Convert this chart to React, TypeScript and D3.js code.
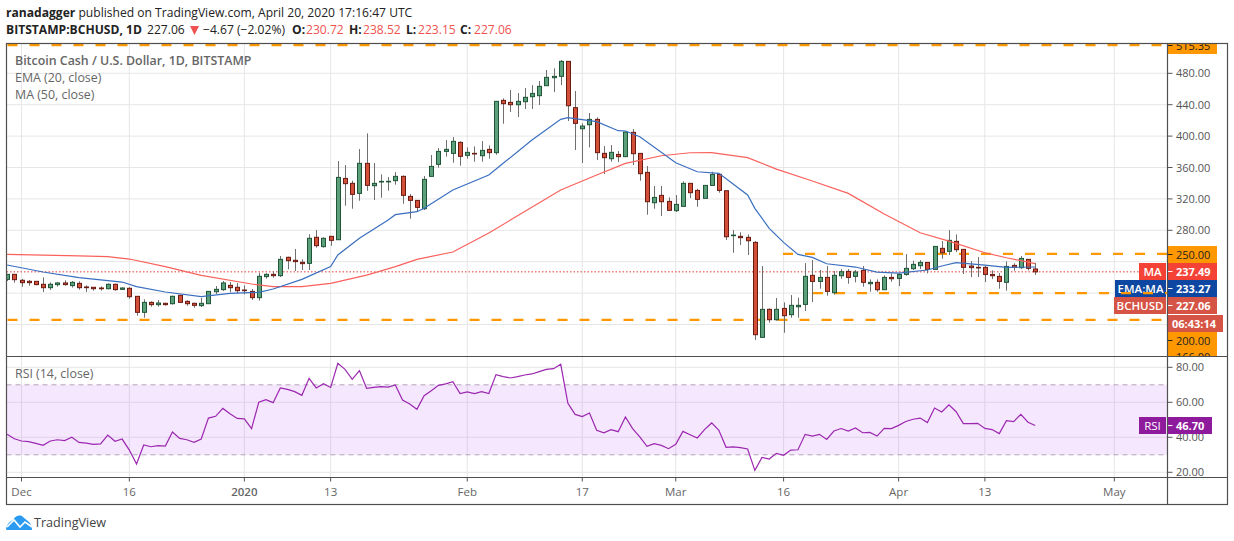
import React from 'react';
import * as d3 from 'd3';

// daily candles, first one is 2019-11-29
const startDate = '2019-11-29';
const opens = [217.5,223.9,216.3,215,215,211.2,206.9,210.8,212.9,209.5,212.4,207.8,207.4,206.5,205.6,211.2,204.8,206.1,195.9,175.5,188.2,185.3,187,186.5,197.2,189.5,187,184,186.5,201.8,204.4,209.9,207.4,203.9,202.2,194.2,221,223.9,222.2,245.6,241.8,239.2,237.9,271.1,259.2,272.3,268,346.1,339.8,327,365.3,336.8,342,342,343.2,348.7,323.2,318.1,307.5,348.7,364,380.5,378,392,375.5,378,375,383.1,378.9,445.5,443,440,443.8,450.2,451.5,464.2,474.4,476.1,495.2,436.2,409.4,414.5,421.3,378,371.2,376.7,373.8,404.8,378,353.8,315.1,324.5,316.8,305,310.5,339.8,330.8,320.7,337.2,351.3,330.4,273.5,272.3,271,264.6,143.6,179.3,166.1,180.5,172.5,182.6,185.6,222.6,214.9,220,200.5,222.1,227.7,221.3,229,212,213.7,204.3,220,218.7,223.8,231.1,234.9,239.1,230.2,257,253.2,265.9,255.7,234.5,232.8,232.8,223.8,221.3,213.7,235.3,232.4,243,230.72];
const highs = [224,224,218,216.7,215.4,220,213.7,214.1,216.3,215.4,215,209.9,207.8,208.6,212.4,212,207.4,207.4,195.9,192,189.5,191.2,187.8,196.7,197.2,190.8,187.8,193.8,202.2,209,215.4,214.1,212.9,209.9,205.2,226,225.2,227.7,247.3,246.4,256.2,243,274.9,280.4,271.1,272.3,368.2,363.1,343.2,383.5,403.5,365.7,351.2,347.8,354.2,350,326.2,318.1,349.1,375.9,384.8,395,398.8,393.3,385.6,386.9,393.7,388.2,444.3,448,458.7,454.9,461.2,465,470.2,484.2,486.3,496.9,495.2,457.4,416.2,429.4,423.9,387.3,388.6,381,405.2,409,378,361.9,336.4,336.4,321.9,324.9,342.3,339.8,333,337.2,354.6,351.3,329.6,280.3,277.4,274.8,266.3,234.5,180.5,193.7,188.2,197.5,194.1,238.3,242.1,229.4,234.5,228.1,230.6,230.6,229.4,234.5,217.5,217.5,222.6,225.1,225.1,249.7,241.3,242.1,239.1,259.5,266.3,280.3,274.8,255.7,240.8,245.9,234.5,228.9,225.5,240.4,237.9,247.2,243,238.52];
const lows = [215.4,213.3,208,209.5,210,201.4,204,208.2,209.5,207,204.4,201.4,203.1,203.1,204.8,203.1,204,192.9,171.2,168.7,182.7,182.7,184,185.3,188.2,184,181.4,182.3,186.5,198.9,202.7,201,199.7,198.4,191.2,190.4,218.4,219.7,220.5,230.3,228.2,229.4,229.4,257.9,257.9,260.4,268,311.3,307.5,317.7,330.4,318.5,321.5,330.4,338.1,313.9,294.8,303.3,305.8,348.7,359.7,373.8,366.1,362.3,371.2,367.4,367.4,371.2,376.3,415.8,430.7,424.3,434.5,434.5,439.6,464.2,456.1,465,419.2,382.2,365.7,385.6,369.5,351.7,367.4,367,373.8,363.1,343.2,299.9,307.5,298.2,305,303.3,310.5,321.1,310,320.7,337.2,327.9,267.6,251.4,261.2,248.5,140.2,143.6,162.3,164.8,149.5,168.6,168.6,177.1,188.6,205.6,196.7,198,218.3,212,213.7,208.1,201.8,201.8,204.3,214.5,209,222.1,229.4,230.6,225.1,230.2,243.8,248.5,252.3,224.3,220.4,220.4,214,217.9,205.6,203,228.5,230.6,229,223.15];
const closes = [223.9,217.1,213.3,213.3,210.8,206.9,211.2,212.9,210.8,213.7,206.9,206.9,205.6,205.6,211.2,204.4,206.5,195.4,175.5,188.2,185.3,187.4,185.3,195.9,188.2,186.5,184.4,187,202.2,204.8,212.9,206.9,203.1,203.1,194.2,221.4,223.9,222.2,243,241.3,240.1,237.5,269.8,260.4,269.8,267.2,347.4,339.4,325.8,365.3,337.2,339.8,342.3,342.4,348.7,324.5,318.1,309.2,344.9,361.4,380.5,383.1,393.3,374.2,379.3,377.6,381.8,378.9,444.3,441.3,440,444.3,449.4,454.4,463.4,474.8,476.1,495.2,438.7,416.2,412.8,421.3,378.9,372.5,379.3,373.8,405.2,377.6,352.1,316.4,321.9,316.4,305.4,313,339.8,327.9,319.4,337.2,351.2,330.8,271.8,273.9,270.6,266.7,147,179.3,166.1,179.3,171.2,184.4,184.4,221.3,214.9,220,202.2,222.6,227.2,220,226.8,213.7,213.7,204.3,220,218.3,223.8,231.5,236.6,239.1,230.2,259.5,251.4,267.2,255.3,232.8,232.4,232.4,223.8,222.1,214.9,234,232.8,244.2,231.5,227.06];

// EMA and MA vertices, as day offset from startDate
const emaDays = [0,5,10,16,18,22,27,31,35,37,41,45,46,49,53,54,57,58,62,67,69,73,77,78,82,85,86,88,93,96,99,103,104,106,108,110,112,114,118,121,124,128,130,132,136,139,143];
const emaValues = [235.8,226.9,219.7,214.1,208.2,201.4,195.4,199.7,201,205.2,217.5,233.7,248.5,269.8,293,299.9,303.7,308,331.3,350.4,365.3,395,421.3,423.4,418.4,406.9,406.5,399.2,366.1,354.6,352.5,325,308,282.5,264.6,249.3,245.5,237.4,233.2,226.8,225.5,229.4,234.5,238.7,235.7,232.8,233.27];
const maDays = [0,10,14,17,22,27,34,37,41,45,50,54,57,62,67,70,77,82,86,91,95,98,103,107,112,117,122,127,131,136,139,143];
const maValues = [249.4,247.3,246.4,243.4,233.7,222.6,211.6,208.2,208.2,212.4,223,233.7,243,252.4,276.5,293,331.3,350.4,365.3,375,378.8,379,372.5,358,342.8,327,300.7,276.9,266.3,251.4,245,237.49];

const rsiValues = [41.7,39.2,37.9,37.5,36.5,35.4,37.9,38.6,38.1,40,37.1,36.7,36,36.2,41.3,37.7,39,32.7,24.7,35.6,34.6,35.2,35,43,39.4,38.6,37.1,39,51,52,56.5,53.5,50.8,50.5,45,60,61.5,59.8,68.2,67.4,66.1,64,73.7,68.2,70.6,68.5,82.3,78.8,73.1,78.1,68,68.5,68.9,68.7,69.9,61.3,59,56,63.8,66.6,69.7,70.5,71.8,65,65.9,65,66.1,65,75.8,74.7,73.9,74.7,75.6,76.2,77.5,78.8,79.2,81.7,59.4,53.1,51.8,53.9,44,42.6,44.4,43.2,51.6,45,40.2,34.8,36.4,35.4,33.5,36,43.4,41.5,39.6,44.4,48.2,44,34.3,34.5,34.1,33.3,21.1,28.5,27.6,30.8,29.7,32.7,32.9,41.7,40.7,41.7,38.8,43.6,45,43.6,45.3,42.6,42.8,40.7,45.1,45,46.8,49,50.3,51,48.4,56.7,54.5,58.5,54.6,47.8,47.8,48,45.1,44.4,42.1,49.5,49,53.1,48.6,46.7];

const timeTickDates = ['2019-12-01','2019-12-16','2020-01-01','2020-01-13','2020-02-01','2020-02-17','2020-03-01','2020-03-16','2020-04-01','2020-04-13','2020-05-01'];
const timeTickLabels = ['Dec','16','2020','13','Feb','17','Mar','16','Apr','13','May'];
const priceTicks = [480,440,400,360,320,280,240,200,160];
const priceLabels = [480,440,400,360,320,280];
const rsiTicks = [80,60,40,20];

const FONT = '"Open Sans", sans-serif';
const W = 1234;
const H = 541;
const left = 6.5;
const right = 1167.5;
const outer = 1227.5;
const top = 43.5;
const paneBottom = 356.5;
const rsiBottom = 477.5;
const bottom = 504.5;

const x = d3.scaleUtc()
  .domain([new Date('2019-12-01'), new Date('2020-05-01')])
  .range([21.5, 1114.3]);
const y = d3.scaleLinear().domain([480, 280]).range([73.3, 230.3]);
const yRsi = d3.scaleLinear().domain([80, 20]).range([367.3, 472.3]);

const dayDate = (i: number) => d3.utcDay.offset(new Date(startDate), i);

const emaLine = d3.line<number>()
  .x((d) => x(dayDate(d)))
  .y((_, i) => y(emaValues[i]));
const maLine = d3.line<number>()
  .x((d) => x(dayDate(d)))
  .y((_, i) => y(maValues[i]));
const rsiLine = d3.line<number>()
  .x((_, i) => x(dayDate(i)))
  .y((d) => yRsi(d));

const App: React.FC = () => {
  const axisLabels = [
    { label: '250.00', cy: 254.5, fill: '#ff9800', color: '#222' },
    { label: '200.00', cy: 340.5, fill: '#ff9800', color: '#222' },
    { label: '166.00', cy: 357, fill: '#ff9800', color: '#222' },
    { label: '515.35', cy: 45.5, fill: '#ff9800', color: '#222' },
    { label: '237.49', cy: 271.5, fill: '#f44336', color: '#fff', name: 'MA', nameX: 1139 },
    { label: '233.27', cy: 288.5, fill: '#0d47a1', color: '#fff', name: 'EMA:MA', nameX: 1115 },
    { label: '227.06', cy: 305.5, fill: '#d65445', color: '#fff', name: 'BCHUSD', nameX: 1114 },
  ];
  const levels = [
    { v: 515.35, from: left + 1 },
    { v: 250, from: 783 },
    { v: 200, from: 813 },
    { v: 166, from: left + 1, to: 1162 },
  ];

  return (
    <svg width={W} height={H} style={{ position: 'absolute', left: 0, top: 0, fontFamily: FONT }}>
      <defs>
        <clipPath id="price-pane"><rect x={left} y={top} width={right - left} height={paneBottom - top} /></clipPath>
        <clipPath id="price-axis"><rect x={left} y={top} width={outer - left} height={paneBottom - top} /></clipPath>
      </defs>
      <rect width={W} height={H} fill="#fff" />

      {/* header */}
      <text x={6} y={17} fontSize={12.1} fill="#222"><tspan fontWeight={700}>ranadagger</tspan> published on TradingView.com, April 20, 2020 17:16:47 UTC</text>
      <g fontSize={12.1} fill="#222">
        <text x={6} y={34} fontWeight={700}>BITSTAMP:BCHUSD, 1D</text>
        <text x={147} y={34}>227.06</text>
        <path d="M190 26h9l-4.5 9z" fill="#ef5350" />
        <text x={203} y={34}>−4.67 (−2.02%)</text>
        <text x={292} y={34} fontWeight={700}>O:</text>
        <text x={306} y={34} fill="#ef5350">230.72</text>
        <text x={349} y={34} fontWeight={700}>H:</text>
        <text x={363} y={34} fill="#ef5350">238.52</text>
        <text x={406} y={34} fontWeight={700}>L:</text>
        <text x={418} y={34} fill="#ef5350">223.15</text>
        <text x={460} y={34} fontWeight={700}>C:</text>
        <text x={474} y={34} fill="#ef5350">227.06</text>
      </g>

      {/* grid */}
      <g stroke="#e6e6e6" strokeWidth={1}>
        {timeTickDates.map((d) => (
          <line key={d} x1={x(new Date(d))} x2={x(new Date(d))} y1={top} y2={rsiBottom} />
        ))}
        {priceTicks.map((v) => (
          <line key={v} x1={left} x2={right} y1={y(v)} y2={y(v)} />
        ))}
      </g>

      {/* rsi band */}
      <rect x={left} width={right - left} y={yRsi(70)} height={yRsi(30) - yRsi(70)} fill="#a020f0" fillOpacity={0.11} />
      <g stroke="#e6e6e6">
        {rsiTicks.map((v) => (
          <line key={v} x1={left} x2={right} y1={yRsi(v)} y2={yRsi(v)} stroke={v === 60 || v === 40 ? '#e3d3ea' : '#e6e6e6'} />
        ))}
      </g>
      <g stroke="#b5a6ba" strokeDasharray="5 4">
        <line x1={left} x2={right} y1={yRsi(70)} y2={yRsi(70)} />
        <line x1={left} x2={right} y1={yRsi(30)} y2={yRsi(30)} />
      </g>
      <path d={rsiLine(rsiValues) ?? ''} fill="none" stroke="#9c27b0" strokeWidth={1.2} />

      {/* last price */}
      <line x1={left} x2={1139} y1={y(227.06)} y2={y(227.06)} stroke="#e53935" strokeDasharray="1.5 2" strokeWidth={1} />

      {/* axis pills, the drawn levels go over them */}
      <g clipPath="url(#price-axis)" fontSize={11.5} fontWeight={600}>
        {axisLabels.filter((l) => l.name).map((l) => (
          <g key={l.label}>
            <rect x={l.nameX} width={1166 - (l.nameX as number)} y={l.cy - 8.5} height={17} fill={l.fill} />
            <text x={(1166 + (l.nameX as number)) / 2} y={l.cy + 4} fill="#fff" textAnchor="middle">{l.name}</text>
          </g>
        ))}
      </g>

      {/* horizontal levels */}
      <g clipPath="url(#price-pane)" stroke="#ff9800" strokeWidth={2.2} strokeDasharray="10 12">
        {levels.map((l) => (
          <line key={l.v} x1={l.from} x2={l.to ?? right} y1={y(l.v) + (l.v > 500 ? -0.5 : 0)} y2={y(l.v) + (l.v > 500 ? -0.5 : 0)} />
        ))}
      </g>

      {/* candles */}
      <g clipPath="url(#price-pane)">
        {closes.map((c, i) => {
          const o = opens[i];
          const cx = Math.round(x(dayDate(i))) + 0.5;
          const up = c >= o;
          const yTop = y(Math.max(o, c));
          const yBot = y(Math.min(o, c));
          return (
            <g key={i}>
              <line x1={cx} x2={cx} y1={y(highs[i])} y2={y(lows[i])} stroke="#6f6f6f" />
              <rect
                x={cx - 2}
                width={4}
                y={yTop}
                height={Math.max(yBot - yTop, 0.6)}
                fill={up ? '#5c9f7b' : '#d24f38'}
                stroke={up ? '#1f5537' : '#6b1a12'}
                strokeWidth={1}
              />
            </g>
          );
        })}
        <path d={maLine(maDays) ?? ''} fill="none" stroke="#f9625c" strokeWidth={1.2} />
        <path d={emaLine(emaDays) ?? ''} fill="none" stroke="#3a6fc0" strokeWidth={1.2} />
      </g>

      {/* legends */}
      <g fontSize={12.4} fill="#666">
        <text x={15} y={64.5} fontWeight={600}>Bitcoin Cash / U.S. Dollar, 1D, BITSTAMP</text>
        <text x={15} y={81.5}>EMA (20, close)</text>
        <text x={15} y={98.5}>MA (50, close)</text>
        <text x={15} y={377.5}>RSI (14, close)</text>
      </g>

      {/* price axis */}
      <g fontSize={11} fill="#555">
        {priceLabels.map((v) => (
          <g key={v}>
            <line x1={right} x2={right + 5} y1={y(v)} y2={y(v)} stroke="#555" />
            <text x={1176} y={y(v) + 4}>{v.toFixed(2)}</text>
          </g>
        ))}
      </g>
      <g clipPath="url(#price-axis)" fontSize={11}>
        {axisLabels.map((l) => (
          <g key={l.label}>
            <rect x={right} width={1217 - right} y={l.cy - 8.5} height={17} fill={l.fill} />
            <line x1={right} x2={right + 5} y1={l.cy} y2={l.cy} stroke={l.name ? '#fff' : '#222'} />
            <text x={1176} y={l.cy + 4} fill={l.color} fontWeight={l.name ? 700 : 400}>{l.label}</text>
          </g>
        ))}
        <rect x={right} width={1223 - right} y={315} height={17} fill="#d65445" />
        <text x={1172} y={327.5} fill="#fff" fontWeight={700}>06:43:14</text>
      </g>

      {/* rsi axis */}
      <g fontSize={11} fill="#555">
        {rsiTicks.map((v) => (
          <g key={v}>
            <line x1={right} x2={right + 5} y1={yRsi(v)} y2={yRsi(v)} stroke="#555" />
            <text x={1176} y={yRsi(v) + 4}>{v.toFixed(2)}</text>
          </g>
        ))}
        <rect x={1139} width={27} y={417} height={17} fill="#8e1a9c" />
        <text x={1152.5} y={429.5} fill="#fff" textAnchor="middle" fontSize={11.5}>RSI</text>
        <rect x={right} width={1212 - right} y={417} height={17} fill="#8e1a9c" />
        <line x1={right} x2={right + 5} y1={yRsi(46.7)} y2={yRsi(46.7)} stroke="#fff" />
        <text x={1176} y={429.5} fill="#fff" fontWeight={700}>46.70</text>
      </g>

      {/* time axis */}
      <g fontSize={11.5} fill="#666" textAnchor="middle">
        {timeTickDates.map((d, i) => (
          <g key={d}>
            <line x1={x(new Date(d))} x2={x(new Date(d))} y1={rsiBottom} y2={rsiBottom + 4} stroke="#555" />
            <text x={x(new Date(d))} y={496} fontWeight={timeTickLabels[i] === '2020' ? 600 : 400}>{timeTickLabels[i]}</text>
          </g>
        ))}
      </g>

      {/* frame */}
      <g stroke="#4f4f4f" strokeWidth={1.2} fill="none">
        <rect x={left} y={top} width={outer - left} height={bottom - top} />
        <line x1={right} x2={right} y1={top} y2={bottom} />
        <line x1={left} x2={outer} y1={paneBottom} y2={paneBottom} />
        <line x1={left} x2={outer} y1={rsiBottom} y2={rsiBottom} />
      </g>

      {/* logo */}
      <path d="M6 529 C7 524 10 521 13 520 C15 516 20 514 23 517 C25 519 27 520 29 522 C31 524 32 527 32 530 L9 530 C7 530 6 530 6 529z" fill="#2a9bf0" />
      <path d="M7 527 L14 520 L20 527 L25 522 L32 527" fill="none" stroke="#fff" strokeWidth={1.6} />
      <text x={34} y={527} fontSize={12.6} fill="#444">TradingView</text>
    </svg>
  );
};

export default App;
